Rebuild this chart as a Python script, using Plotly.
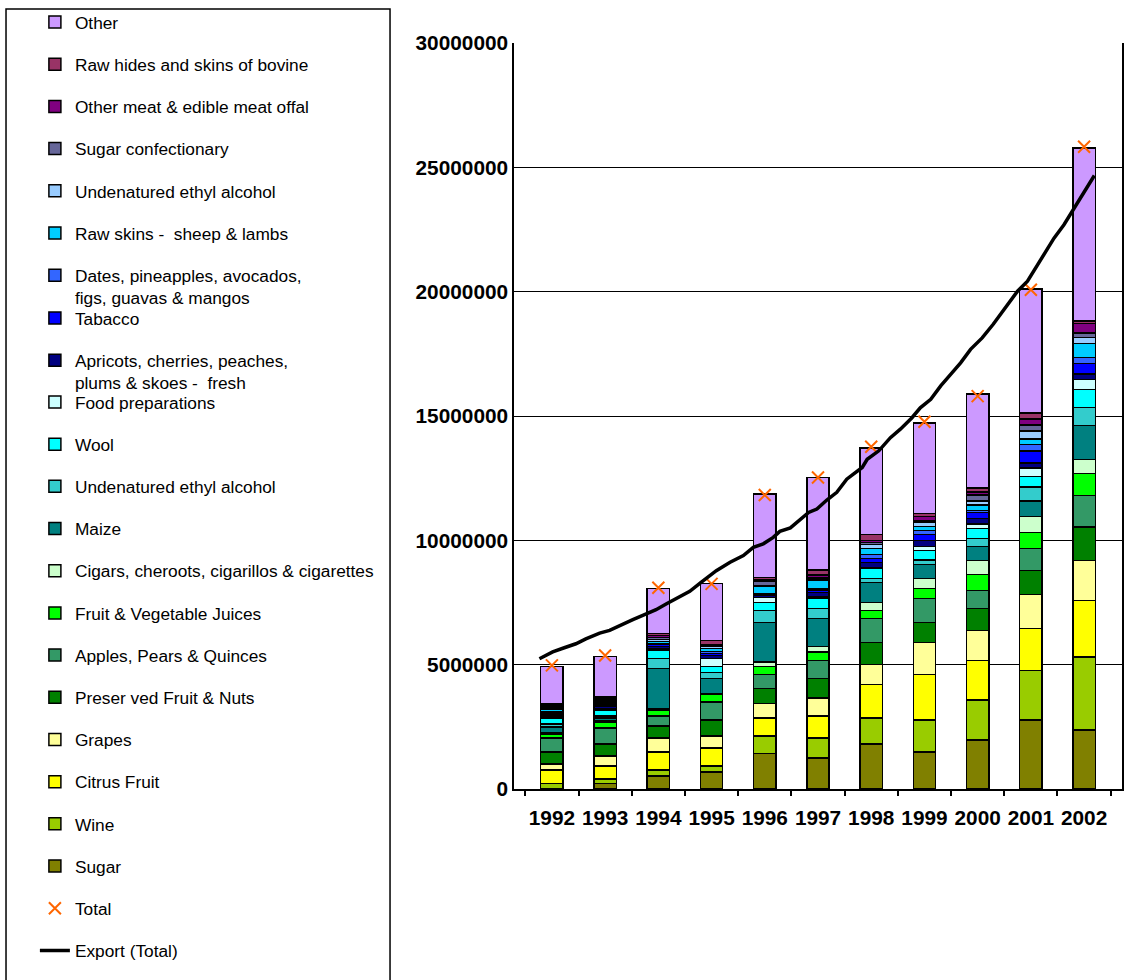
import plotly.graph_objects as go

years = ["1992", "1993", "1994", "1995", "1996", "1997", "1998", "1999", "2000", "2001", "2002"]

sugar = [30000, 220000, 520000, 680000, 1420000, 1240000, 1800000, 1480000, 1970000, 2770000, 2370000]
wine = [190000, 180000, 240000, 240000, 710000, 810000, 1050000, 1290000, 1600000, 2000000, 2930000]
citrus = [540000, 520000, 720000, 720000, 720000, 880000, 1360000, 1840000, 1600000, 1690000, 2280000]
grapes = [240000, 400000, 570000, 490000, 580000, 720000, 800000, 1290000, 1210000, 1360000, 1600000]
preserved = [480000, 480000, 480000, 640000, 620000, 800000, 890000, 800000, 880000, 960000, 1350000]
apples = [570000, 650000, 400000, 720000, 560000, 720000, 960000, 960000, 720000, 890000, 1280000]
juices = [160000, 240000, 240000, 320000, 320000, 330000, 320000, 400000, 640000, 640000, 870000]
cigars = [70000, 40000, 60000, 40000, 180000, 240000, 320000, 400000, 570000, 640000, 570000]
maize = [210000, 120000, 1620000, 600000, 1590000, 1120000, 800000, 570000, 560000, 640000, 1370000]
undenatured = [130000, 80000, 400000, 240000, 480000, 400000, 160000, 180000, 320000, 560000, 720000]
wool = [230000, 240000, 330000, 240000, 320000, 400000, 400000, 380000, 400000, 410000, 720000]
food_prep = [80000, 40000, 80000, 320000, 200000, 60000, 40000, 160000, 180000, 340000, 410000]
apricots = [70000, 120000, 80000, 120000, 80000, 180000, 200000, 240000, 220000, 220000, 210000]
tabacco = [50000, 60000, 80000, 80000, 40000, 80000, 170000, 240000, 240000, 480000, 430000]
dates = [50000, 60000, 40000, 70000, 20000, 60000, 160000, 160000, 80000, 260000, 240000]
raw_skins = [110000, 60000, 80000, 140000, 300000, 340000, 240000, 160000, 240000, 220000, 560000]
undenatured2 = [70000, 60000, 80000, 80000, 40000, 60000, 160000, 160000, 160000, 320000, 240000]
sugar_conf = [40000, 40000, 80000, 40000, 180000, 60000, 80000, 60000, 240000, 240000, 180000]
other_meat = [50000, 40000, 80000, 40000, 60000, 100000, 80000, 180000, 120000, 240000, 380000]
raw_hides = [40000, 80000, 80000, 160000, 80000, 200000, 240000, 120000, 160000, 240000, 120000]
other = [1520000, 1600000, 1800000, 2280000, 3370000, 3720000, 3490000, 3650000, 3770000, 4980000, 6940000]

totals = [4970000, 5370000, 8090000, 8250000, 11820000, 12530000, 13760000, 14770000, 15800000, 20080000, 25830000]

export_pos = [1991.96, 1992.20, 1992.41, 1992.62, 1992.80, 1993.05, 1993.23, 1993.41, 1993.65, 1993.83,
              1994.07, 1994.26, 1994.50, 1994.68, 1994.89, 1995.16, 1995.41, 1995.65, 1995.83, 1996.01,
              1996.19, 1996.31, 1996.50, 1996.68, 1996.83, 1996.98, 1997.16, 1997.34, 1997.52, 1997.64,
              1997.80, 1997.89, 1998.10, 1998.31, 1998.49, 1998.70, 1998.85, 1999.04, 1999.22, 1999.40,
              1999.58, 1999.76, 1999.97, 2000.17, 2000.37, 2000.61, 2000.79, 2001.03, 2001.27, 2001.45,
              2001.63, 2001.81, 2002.00]
export_val = [5240000, 5510000, 5680000, 5840000, 6040000, 6270000, 6380000, 6580000, 6810000, 6980000,
              7210000, 7450000, 7740000, 7950000, 8320000, 8780000, 9120000, 9390000, 9720000, 9860000,
              10120000, 10360000, 10500000, 10860000, 11120000, 11260000, 11620000, 11930000, 12460000, 12660000,
              12930000, 13260000, 13600000, 14130000, 14470000, 14930000, 15330000, 15670000, 16210000, 16670000,
              17140000, 17680000, 18140000, 18690000, 19280000, 20020000, 20420000, 21290000, 22150000, 22690000,
              23360000, 24030000, 24670000]

# (name, values, colour, legend block)
series = [
    ("Sugar", sugar, "#808000", "legend3"),
    ("Wine", wine, "#99CC00", "legend3"),
    ("Citrus Fruit", citrus, "#FFFF00", "legend3"),
    ("Grapes", grapes, "#FFFF99", "legend3"),
    ("Preser ved Fruit &amp; Nuts", preserved, "#008000", "legend3"),
    ("Apples, Pears &amp; Quinces", apples, "#339966", "legend3"),
    ("Fruit &amp; Vegetable Juices", juices, "#00FF00", "legend3"),
    ("Cigars, cheroots, cigarillos &amp; cigarettes", cigars, "#CCFFCC", "legend3"),
    ("Maize", maize, "#008080", "legend3"),
    ("Undenatured ethyl alcohol", undenatured, "#33CCCC", "legend3"),
    ("Wool", wool, "#00FFFF", "legend3"),
    ("Food preparations", food_prep, "#CCFFFF", "legend3"),
    ("Apricots, cherries, peaches,<br>plums &amp; skoes -  fresh", apricots, "#000080", "legend2"),
    ("Tabacco", tabacco, "#0000FF", "legend2"),
    ("Dates, pineapples, avocados,<br>figs, guavas &amp; mangos", dates, "#3366FF", "legend"),
    ("Raw skins -  sheep &amp; lambs", raw_skins, "#00CCFF", "legend"),
    ("Undenatured ethyl alcohol", undenatured2, "#99CCFF", "legend"),
    ("Sugar confectionary", sugar_conf, "#666699", "legend"),
    ("Other meat &amp; edible meat offal", other_meat, "#800080", "legend"),
    ("Raw hides and skins of bovine", raw_hides, "#993366", "legend"),
    ("Other", other, "#CC99FF", "legend"),
]

FONT = "Liberation Sans, Arial, sans-serif"

fig = go.Figure()
n = len(series)
for i, (name, vals, color, leg) in enumerate(series):
    fig.add_trace(go.Bar(
        x=years, y=vals, name=name,
        marker=dict(color=color, line=dict(color="black", width=1.5)),
        width=0.42, legendgroup=f"g{i:02d}", legendrank=100 + (n - 1 - i),
        legend=leg, hoverinfo="name+y",
    ))

fig.add_trace(go.Scatter(
    x=years, y=totals, name="Total", mode="markers",
    marker=dict(symbol="x-thin", size=12, color="#FF6600", line=dict(color="#FF6600", width=2)),
    legendgroup="total", legendrank=200, legend="legend3",
))

fig.add_trace(go.Scatter(
    x=export_pos, y=export_val, name="Export (Total)", mode="lines",
    xaxis="x2", line=dict(color="black", width=3.5),
    legendgroup="export", legendrank=201, legend="legend3",
))

leg_common = dict(
    x=-0.788, xanchor="left", yanchor="top",
    font=dict(family=FONT, size=17.3, color="black"),
    tracegroupgap=16.7, valign="top", bgcolor="rgba(0,0,0,0)",
    traceorder="grouped", maxheight=1000,
)

fig.update_layout(
    width=1125, height=980,
    margin=dict(l=514, r=3, t=43, b=191, autoexpand=False),
    paper_bgcolor="white", plot_bgcolor="white",
    barmode="stack",
    font=dict(family=FONT, color="black"),
    showlegend=True,
    xaxis=dict(
        type="category", tickson="boundaries", ticks="outside", ticklen=5,
        tickcolor="black", tickwidth=1.5, showline=True, linecolor="black", linewidth=1.5,
        tickfont=dict(family=FONT, size=20.8, color="black", weight="bold"),
        tickangle=0, ticklabelstandoff=9, showgrid=False,
    ),
    xaxis2=dict(overlaying="x", range=[1991.5, 2002.5], visible=False),
    yaxis=dict(
        range=[0, 30000000], dtick=5000000, tickformat="d",
        showgrid=True, gridcolor="black", gridwidth=1,
        showline=True, linecolor="black", linewidth=1.5, mirror=True,
        zeroline=False, ticks="",
        tickfont=dict(family=FONT, size=20.8, color="black", weight="bold"),
    ),
    legend=dict(y=1.0519, **leg_common),
    legend2=dict(y=0.6552, **leg_common),
    legend3=dict(y=0.5426, **leg_common),
    shapes=[dict(
        type="rect", xref="paper", yref="paper",
        x0=-0.8355, x1=-0.2039, y0=-0.27, y1=1.0456,
        line=dict(color="black", width=1.5), fillcolor="rgba(0,0,0,0)", layer="below",
    )],
)

fig.write_html("out.html")
